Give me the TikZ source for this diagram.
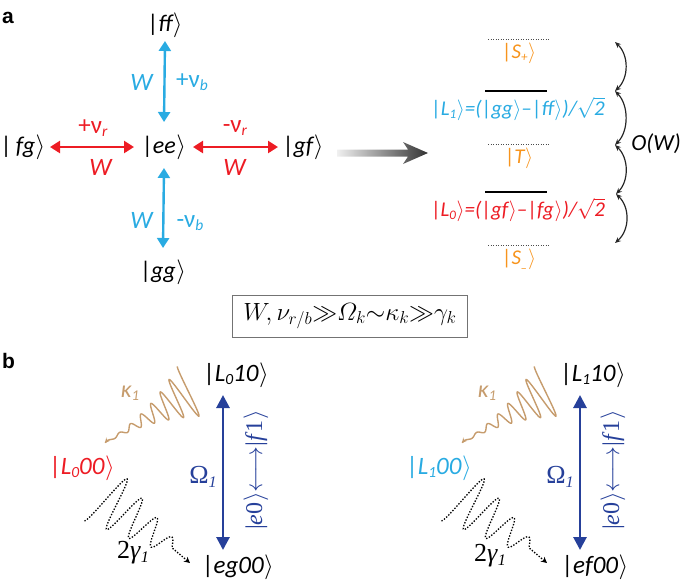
\documentclass[tikz,border=0pt]{standalone}
\usepackage{amsmath}
\usepackage{fontspec}
\setmainfont{Carlito}
\newfontfamily\serf{Liberation Serif}
\newfontfamily\arl{Liberation Sans}
\usetikzlibrary{arrows.meta,calc}
\definecolor{lblue}{RGB}{41,171,226}
\definecolor{myred}{RGB}{237,28,36}
\definecolor{orng}{RGB}{247,148,29}
\definecolor{brwn}{RGB}{198,156,109}
\definecolor{dblue}{RGB}{38,64,154}
\newcommand\sbs[1]{\raisebox{-0.3ex}{\scalebox{0.62}{#1}}}
\newcommand\kt[1]{{\upshape|}#1\kern0.5pt$\rangle$}
\begin{document}
\begin{tikzpicture}[x=1pt,y=-1pt,
  ket/.style={inner sep=0pt,font=\fontsize{24}{26}\selectfont\itshape},
  bket/.style={inner sep=0pt,font=\fontsize{25}{27}\selectfont\itshape},
  lbl/.style={inner sep=0pt,font=\fontsize{25}{27}\selectfont},
  lev/.style={inner sep=0pt,font=\fontsize{21}{23}\selectfont\itshape},
  panel/.style={inner sep=0pt,anchor=base west,font=\arl\bfseries\fontsize{21}{23}\selectfont},
  barr/.style={lblue,line width=2.4pt,{Triangle[length=10pt,width=12pt]}-{Triangle[length=10pt,width=12pt]}},
  rarr/.style={myred,line width=2.4pt,{Triangle[length=10pt,width=12pt]}-{Triangle[length=10pt,width=12pt]}},
  darr/.style={dblue,line width=2.8pt,{Triangle[length=13pt,width=13pt]}-{Triangle[length=13pt,width=13pt]}},
  carr/.style={black!85,line width=1.2pt,{Stealth[length=6pt,width=5pt]}-{Stealth[length=6pt,width=5pt]}},
  dotline/.style={black!70,line width=1pt,dash pattern=on 1pt off 1.5pt},
  thickline/.style={black,line width=2.6pt},
  kwave/.style={brwn,line width=1.4pt,{Stealth[length=5pt,width=5pt]}-},
  gwave/.style={black,line width=1.3pt,dash pattern=on 1.4pt off 1.6pt,-{Stealth[length=6pt,width=6pt]}}]
\useasboundingbox (0,0) rectangle (685,587);

% ---------- panel a ----------
\node[panel] (pa) at (2,23) {a};
\node[ket] (ff) at (165,25) {\kt{ff}};
\node[ket] (ee) at (164,147) {\kt{ee}};
\node[ket] (gg) at (163,272) {\kt{gg}};
\node[ket] (fg) at (23,147) {\kt{\,fg}};
\node[ket] (gf) at (303,147) {\kt{gf}};

\draw[barr] ([yshift=-16pt]ff.center) -- ([yshift=25pt]ee.center);
\draw[barr] ([yshift=-21pt]ee.center) -- ([yshift=24pt]gg.center);
\draw[rarr] ([xshift=27pt]fg.center) -- ([xshift=-30pt]ee.center);
\draw[rarr] ([xshift=29pt]ee.center) -- ([xshift=-25pt]gf.center);

\node[lbl,text=lblue] (wb1) at (142,82) {\textit{W}};
\node[lbl,text=lblue] (nb1) at (192,82) {+ν\sbs{\textit{b}}};
\node[lbl,text=lblue] (wb2) at (142,220) {\textit{W}};
\node[lbl,text=lblue] (nb2) at (190,223) {-ν\sbs{\textit{b}}};
\node[lbl,text=myred] (nr1) at (93,128) {+ν\sbs{\textit{r}}};
\node[lbl,text=myred] (wr1) at (101,167) {\textit{W}};
\node[lbl,text=myred] (nr2) at (235,128) {-ν\sbs{\textit{r}}};
\node[lbl,text=myred] (wr2) at (235,167) {\textit{W}};

% gradient arrow
\shade[left color=black!6,right color=black!80]
  (337,149.5) -- (408,149.5) -- (403,142) -- (428,153) -- (403,164) -- (408,156.5) -- (337,156.5) -- cycle;

% levels
\coordinate (spA) at (488,39);  \coordinate (spB) at (550,39);
\coordinate (l1A) at (485,91);  \coordinate (l1B) at (547,91);
\coordinate (tA) at (488,144);  \coordinate (tB) at (550,144);
\coordinate (l0A) at (485,192); \coordinate (l0B) at (547,192);
\coordinate (smA) at (488,245); \coordinate (smB) at (550,245);
\draw[dotline] (spA) -- (spB);
\draw[thickline] (l1A) -- (l1B);
\draw[dotline] (tA) -- (tB);
\draw[thickline] (l0A) -- (l0B);
\draw[dotline] (smA) -- (smB);

\node[lev,text=orng] (Sp) at (519,53) {\kt{S\sbs{+}}};
\node[lev,text=lblue] (L1) at (518,109) {\kt{L\sbs{1}}=(\kt{gg}\textendash\kt{ff})/$\sqrt{\mbox{2}}$};
\node[lev,text=orng] (T) at (519,158) {\kt{T}};
\node[lev,text=myred] (L0) at (518,210) {\kt{L\sbs{0}}=(\kt{gf}\textendash\kt{fg})/$\sqrt{\mbox{2}}$};
\node[lev,text=orng] (Sm) at (519,259) {\kt{S\sbs{\_}}};

\coordinate (c1) at (615,42);
\coordinate (c2) at (615,91);
\coordinate (c3) at (615,145);
\coordinate (c4) at (616,194);
\coordinate (c5) at (615,243);
\draw[carr] (c1) .. controls (629,55) and (629,78) .. (c2);
\draw[carr] (c2) .. controls (629,105) and (629,131) .. (c3);
\draw[carr] (c3) .. controls (629,158) and (629,181) .. (c4);
\draw[carr] (c4) .. controls (630,207) and (630,230) .. (c5);
\node[inner sep=0pt,font=\fontsize{23}{25}\selectfont\itshape] (OW) at (656,144) {O(W)};

% condition box
\node[draw=black!55,line width=0.9pt,minimum width=235pt,minimum height=42pt,inner sep=0pt,
  font=\fontsize{25}{27}\selectfont] (cond) at (350,316)
  {$W,\nu_{r/b}{\gg}\varOmega_k{\sim}\kappa_k{\gg}\gamma_k$};

% ---------- panel b ----------
\node[panel] (pb) at (2,368) {b};

% left
\node[bket] (L010) at (236,375) {\kt{L\sbs{0}10}};
\node[bket] (eg00) at (238,567) {\kt{eg00}};
\node[bket,text=myred] (L000) at (82,468) {\kt{L\sbs{0}00}};
\draw[darr] ([xshift=-13pt,yshift=-20pt]L010.center) -- ([xshift=-15pt,yshift=17pt]eg00.center);
\node[inner sep=0pt,text=dblue,font=\serf\fontsize{26}{28}\selectfont] (om1) at (203,477) {Ω\sbs{\textit{1}}};
\node[inner sep=0pt,rotate=90,text=dblue,font=\serf\fontsize{24}{26}\selectfont] (rl1) at (256,470)
  {\kt{\textit{e}0}$\longleftrightarrow$\kt{\textit{f}1}};
\node[inner sep=0pt,text=brwn,font=\fontsize{24}{26}\selectfont\itshape] (ka1) at (130,393) {κ\sbs{1}};
\node[inner sep=0pt,font=\serf\fontsize{26}{28}\selectfont] (ga1) at (133,553) {2\textit{γ}\sbs{\textit{1}}};
\draw[kwave] plot[domain=0:1,samples=300,variable=\t]
  ({105+87*\t-0.51*(0.8+28*\t*\t)*sin(2610*\t)},{443-52*\t-0.86*(0.8+28*\t*\t)*sin(2610*\t)});
\coordinate (gtip1) at (190,563);
\draw[gwave] plot[domain=0:1,samples=300,variable=\t]
  ({102+70*\t-0.57*(31-24*\t)*cos(1350*\t)},{495+53*\t+0.83*(31-24*\t)*cos(1350*\t)}) -- (gtip1);

% right
\node[bket] (L110) at (593,375) {\kt{L\sbs{1}10}};
\node[bket] (ef00) at (595,567) {\kt{ef00}};
\node[bket,text=lblue] (L100) at (439,468) {\kt{L\sbs{1}00}};
\draw[darr] ([xshift=-13pt,yshift=-20pt]L110.center) -- ([xshift=-15pt,yshift=17pt]ef00.center);
\node[inner sep=0pt,text=dblue,font=\serf\fontsize{26}{28}\selectfont] (om2) at (560,477) {Ω\sbs{\textit{1}}};
\node[inner sep=0pt,rotate=90,text=dblue,font=\serf\fontsize{24}{26}\selectfont] (rl2) at (613,470)
  {\kt{\textit{e}0}$\longleftrightarrow$\kt{\textit{f}1}};
\node[inner sep=0pt,text=brwn,font=\fontsize{24}{26}\selectfont\itshape] (ka2) at (487,393) {κ\sbs{1}};
\node[inner sep=0pt,font=\serf\fontsize{26}{28}\selectfont] (ga2) at (490,556) {2\textit{γ}\sbs{\textit{1}}};
\draw[kwave] plot[domain=0:1,samples=300,variable=\t]
  ({462+87*\t-0.51*(0.8+28*\t*\t)*sin(2610*\t)},{443-52*\t-0.86*(0.8+28*\t*\t)*sin(2610*\t)});
\coordinate (gtip2) at (547,563);
\draw[gwave] plot[domain=0:1,samples=300,variable=\t]
  ({459+70*\t-0.57*(31-24*\t)*cos(1350*\t)},{495+53*\t+0.83*(31-24*\t)*cos(1350*\t)}) -- (gtip2);
\end{tikzpicture}
\end{document}
